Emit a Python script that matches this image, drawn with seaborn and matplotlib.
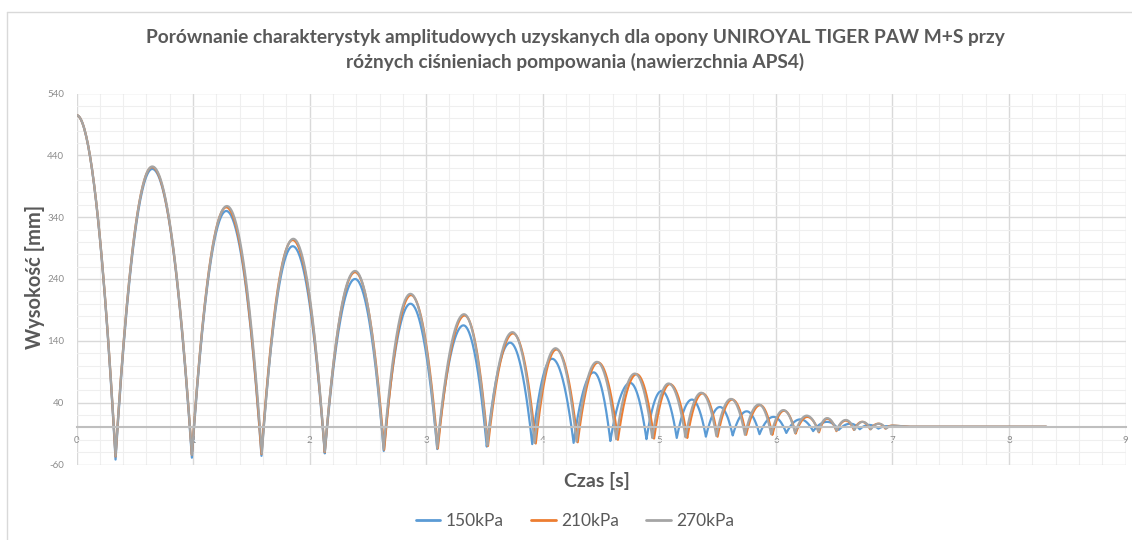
import matplotlib
matplotlib.use('Agg')
import matplotlib.pyplot as plt
import numpy as np
import pandas as pd
import seaborn as sns

# Peaks (apex) and minima (impact), time [s] and height [mm]
t_peak_150 = [0.0, 0.65, 1.285, 1.855, 2.39, 2.865, 3.32, 3.72, 4.08, 4.437, 4.75, 5.02, 5.28, 5.52, 5.75,
              5.98, 6.21, 6.44, 6.64, 6.8, 6.95]
h_peak_150 = [505, 418, 350, 293, 240, 200, 165, 137, 111, 89, 72, 59, 45, 33, 26, 17, 13, 9, 6, 4, 2]
t_min_150 = [0.335, 0.99, 1.587, 2.13, 2.636, 3.095, 3.52, 3.91, 4.265, 4.58, 4.89, 5.15, 5.40, 5.63, 5.86,
             6.09, 6.32, 6.54, 6.72, 6.88]
h_min_150 = [-52, -49, -46, -42, -38, -35, -31, -27, -25, -22, -19, -17, -15, -13, -11, -9, -6, -4, -3, -2]

t_peak_210 = [0.0, 0.648, 1.285, 1.855, 2.39, 2.87, 3.33, 3.745, 4.117, 4.475, 4.805, 5.09, 5.37, 5.625, 5.865,
              6.07, 6.27, 6.44, 6.60, 6.74, 6.88, 7.0]
h_peak_210 = [505, 421, 356, 303, 251, 214, 181, 152, 126, 105, 86, 70, 55, 45, 36, 27, 17, 14, 11, 9, 6, 3]
t_min_210 = [0.335, 0.99, 1.587, 2.13, 2.64, 3.10, 3.53, 3.94, 4.30, 4.645, 4.955, 5.24, 5.50, 5.745, 5.97,
             6.17, 6.37, 6.52, 6.67, 6.81, 6.94]
h_min_210 = [-47, -44, -43, -40, -36, -34, -30, -26, -24, -20, -18, -17, -15, -12, -12, -10, -8, -6, -4, -3, -2]

t_peak_270 = [0.0, 0.65, 1.29, 1.86, 2.39, 2.865, 3.325, 3.74, 4.11, 4.465, 4.79, 5.08, 5.36, 5.615, 5.855,
              6.065, 6.265, 6.44, 6.6, 6.745, 6.885, 7.01]
h_peak_270 = [505, 422, 358, 305, 253, 216, 183, 154, 128, 106, 87, 71, 56, 46, 37, 28, 19, 15, 12, 9, 6, 3]
t_min_270 = [0.335, 0.99, 1.59, 2.13, 2.635, 3.095, 3.525, 3.93, 4.29, 4.63, 4.94, 5.225, 5.49, 5.735, 5.96,
             6.165, 6.365, 6.52, 6.675, 6.815, 6.945]
h_min_270 = [-46, -44, -42, -39, -35, -33, -29, -25, -23, -19, -17, -16, -14, -12, -11, -9, -7, -5, -4, -3, -2]

# flat tail after the bouncing stops
t_tail = [7.15, 8.32]
h_tail = [1, 1]

series_names = ['150kPa', '210kPa', '270kPa']
colors = ['#5B9BD5', '#ED7D31', '#A5A5A5']


def build_curve(pk_t, pk_h, mn_t, mn_h):
    ext_t, ext_h = [], []
    for i in range(len(pk_t)):  # interleave apex and impact points
        ext_t.append(pk_t[i])
        ext_h.append(pk_h[i])
        if i < len(mn_t):
            ext_t.append(mn_t[i])
            ext_h.append(mn_h[i])
    ts, hs = [], []
    s = np.linspace(0, 1, 40, endpoint=False)
    for k in range(len(ext_t) - 1):
        t0, t1, h0, h1 = ext_t[k], ext_t[k + 1], ext_h[k], ext_h[k + 1]
        if h0 > h1:  # falling from apex
            y = h0 - (h0 - h1) * s ** 2
        else:  # rising to apex
            y = h1 - (h1 - h0) * (1 - s) ** 2
        ts.extend(t0 + (t1 - t0) * s)
        hs.extend(y)
    ts.append(ext_t[-1])
    hs.append(ext_h[-1])
    ts.extend(t_tail)
    hs.extend(h_tail)
    return ts, hs


frames = []
for name, args in zip(series_names, [(t_peak_150, h_peak_150, t_min_150, h_min_150),
                                     (t_peak_210, h_peak_210, t_min_210, h_min_210),
                                     (t_peak_270, h_peak_270, t_min_270, h_min_270)]):
    ts, hs = build_curve(*args)
    frames.append(pd.DataFrame({'Czas': ts, 'Wysokosc': hs, 'seria': name}))
df = pd.concat(frames, ignore_index=True)

sns.set_style('white')
plt.rcParams['font.family'] = ['Lato', 'DejaVu Sans']

fig = plt.figure(figsize=(11.32, 5.4), dpi=100)
ax = fig.add_axes([76.5 / 1132, 1 - 464.5 / 540, (1125.5 - 76.5) / 1132, (464.5 - 93.5) / 540])

# grid
ax.set_xlim(0, 9)
ax.set_ylim(-60, 540)
ax.set_xticks(np.arange(0, 10, 1))
ax.set_yticks(np.arange(-60, 541, 100))
ax.set_xticks(np.arange(0, 9.01, 0.2), minor=True)
ax.set_yticks(np.arange(-60, 541, 20), minor=True)
ax.grid(which='major', color='#d9d9d9', linewidth=1.0)
ax.grid(which='minor', color='#efefef', linewidth=0.8)
ax.set_axisbelow(True)

sns.lineplot(data=df, x='Czas', y='Wysokosc', hue='seria', palette=colors, estimator=None,
             linewidth=1.6, ax=ax, legend=False)

for side in ['top', 'right', 'left']:
    ax.spines[side].set_visible(False)
ax.spines['bottom'].set_position(('data', 0))
ax.spines['bottom'].set_color('#bfbfbf')
ax.spines['bottom'].set_linewidth(1.5)
ax.tick_params(axis='both', which='both', length=0, labelsize=7, labelcolor='#8c8c8c')
ax.tick_params(axis='x', pad=6)
ax.tick_params(axis='y', pad=9)
ax.set_xticklabels([str(i) for i in range(10)])
ax.set_yticklabels([str(v) for v in range(-60, 541, 100)])
ax.set_xlabel('')
ax.set_ylabel('')

fig.text(597 / 1132, 1 - 481 / 540, 'Czas [s]', ha='center', va='center', fontsize=14,
         fontweight='bold', color='#595959')
fig.text(35 / 1132, 1 - 277 / 540, 'Wysokość [mm]', ha='center', va='center', rotation=90,
         fontsize=14.5, fontweight='bold', color='#595959')
fig.text(575 / 1132, 1 - 37 / 540, 'Porównanie charakterystyk amplitudowych uzyskanych dla opony '
                                   'UNIROYAL TIGER PAW M+S przy', ha='center', va='center', fontsize=13.8,
         fontweight='bold', color='#595959')
fig.text(575 / 1132, 1 - 62 / 540, 'różnych ciśnieniach pompowania (nawierzchnia APS4)', ha='center',
         va='center', fontsize=13.8, fontweight='bold', color='#595959')

handles = [plt.Line2D([], [], color=c, linewidth=2) for c in colors]
leg = fig.legend(handles, series_names, loc='center', bbox_to_anchor=(575 / 1132, 1 - 521 / 540), ncol=3,
                 frameon=False, fontsize=12.5, handlelength=1.4, handletextpad=0.3, columnspacing=1.6)
for txt in leg.get_texts():
    txt.set_color('#595959')

# outer chart frame (left and top edges visible)
fig.add_artist(plt.Line2D([6.7 / 1132, 6.7 / 1132], [0, 1 - 12.3 / 540], transform=fig.transFigure,
                          color='#d9d9d9', linewidth=1))
fig.add_artist(plt.Line2D([6.7 / 1132, 1], [1 - 12.3 / 540, 1 - 12.3 / 540], transform=fig.transFigure,
                          color='#d9d9d9', linewidth=1))

fig.savefig('out.png', dpi=100)
